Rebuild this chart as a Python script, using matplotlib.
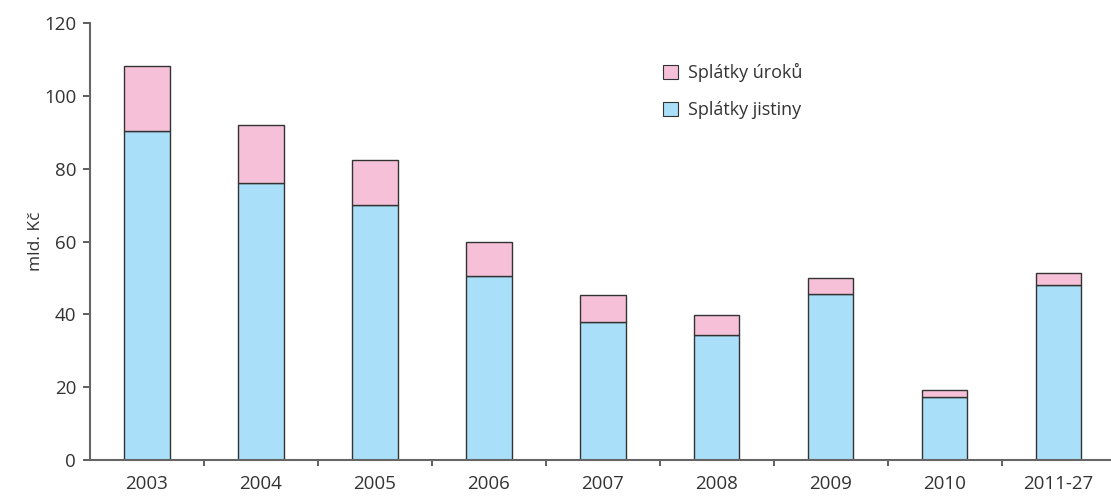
import numpy as np
import matplotlib
matplotlib.use('Agg')
import matplotlib.pyplot as plt
from matplotlib.patches import Patch

categories = ['2003', '2004', '2005', '2006', '2007', '2008', '2009', '2010', '2011-27']
principal = [90.3, 76.1, 70.0, 50.5, 37.9, 34.3, 45.6, 17.3, 48.0]
total = [108.2, 92.0, 82.4, 59.9, 45.3, 39.8, 50.0, 19.2, 51.3]
interest = [t - p for t, p in zip(total, principal)]

plt.rcParams['font.family'] = ['Open Sans', 'DejaVu Sans']
text_color = '#333333'
blue = '#a9dff8'
pink = '#f5c0d8'

fig = plt.figure(figsize=(11.11, 4.96), dpi=100)
ax = fig.add_axes([0.081, 0.0726, 0.923, 0.8810])

x = np.arange(len(categories))
ax.bar(x, principal, width=0.4, color=blue, edgecolor='#333333', linewidth=1.0)
ax.bar(x, interest, width=0.4, bottom=principal, color=pink, edgecolor='#333333', linewidth=1.0)

ax.set_xlim(-0.5, len(categories) - 0.5)
ax.set_ylim(0, 120)
ax.set_yticks(range(0, 121, 20))
ax.set_xticks(x)
ax.set_xticklabels(categories)
ax.set_xticks(np.arange(0.5, len(categories) - 0.5, 1), minor=True)

for s in ['top', 'right']:
    ax.spines[s].set_visible(False)
for s in ['left', 'bottom']:
    ax.spines[s].set_color('#666666')
    ax.spines[s].set_linewidth(1.5)

ax.tick_params(axis='y', length=5, width=1.2, color='#444444', labelsize=13.5,
               labelcolor=text_color, pad=5)
ax.tick_params(axis='x', which='major', length=0, labelsize=13.5, labelcolor=text_color, pad=11)
ax.tick_params(axis='x', which='minor', length=4, width=1.2, color='#444444')

ax.set_ylabel('mld. Kč', fontsize=12.5, color=text_color, labelpad=0)

handles = [Patch(facecolor=pink, edgecolor='#333333', linewidth=0.8, label='Splátky úroků'),
           Patch(facecolor=blue, edgecolor='#333333', linewidth=0.8, label='Splátky jistiny')]
ax.legend(handles=handles, loc='upper left', bbox_to_anchor=(0.543, 0.945), frameon=False,
          fontsize=13, handlelength=0.8, handleheight=0.8, handletextpad=0.6,
          labelspacing=1.05, labelcolor=text_color)

fig.savefig('out.png', dpi=100)
